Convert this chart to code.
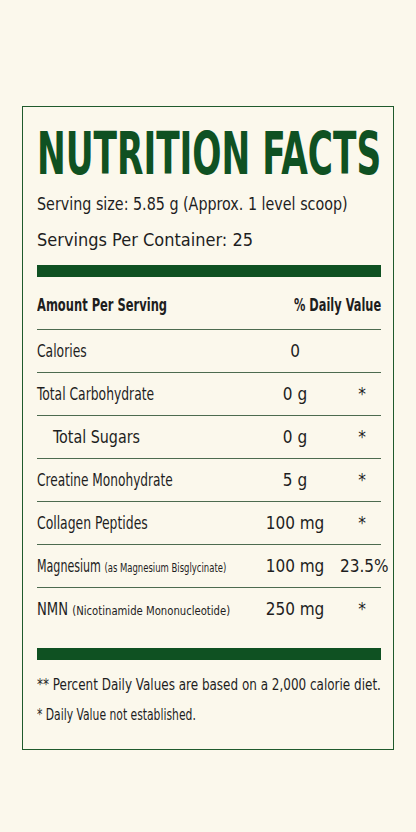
<!DOCTYPE html>
<html><head><meta charset="utf-8">
<script src="https://cdn.jsdelivr.net/npm/chart.js@4"></script>
<style>
body{margin:0;width:416px;height:832px;background:#fbf8ec;font-family:"Liberation Sans Narrow","DejaVu Sans Condensed",sans-serif;color:#1e1e1e;position:relative;overflow:hidden}
.box{position:absolute;left:22px;top:106px;width:370px;height:642px;border:1.5px solid #1f5a2c}
.abs{position:absolute;white-space:nowrap;transform-origin:left top}
.title{left:37px;top:120px;font-size:58px;font-weight:bold;color:#0f5122}
.bar{position:absolute;left:37px;width:344px;height:12px;background:#0f5122}
.rule{position:absolute;left:37px;width:344px;height:1px;background:#4d6b4f}
.t{font-size:17px}
.small{font-size:13px}
</style></head><body>
<div class="box"></div>
<div id="root"></div>
<script>
const servingLines = ["Serving size: 5.85 g (Approx. 1 level scoop)", "Servings Per Container: 25"];
const nutrients = ["Calories", "Total Carbohydrate", "Total Sugars", "Creatine Monohydrate", "Collagen Peptides", "Magnesium", "NMN"];
const notes = ["", "", "", "", "", "(as Magnesium Bisglycinate)", "(Nicotinamide Mononucleotide)"];
const amounts = ["0", "0 g", "0 g", "5 g", "100 mg", "100 mg", "250 mg"];
const dailyValues = ["", "*", "*", "*", "*", "23.5%", "*"];
const footnotes = ["** Percent Daily Values are based on a 2,000 calorie diet.", "* Daily Value not established."];

const root = document.getElementById("root");
function add(cls, html, style, fit){
  const d=document.createElement("div");d.className=cls;d.innerHTML=html;Object.assign(d.style,style||{});root.appendChild(d);
  if(fit){const w=d.scrollWidth;d.style.transform="scaleX("+(fit/w)+")";}
  return d;
}
add("abs title","NUTRITION FACTS",{},344);
add("abs t",servingLines[0],{left:"37px",top:"193px",fontSize:"18px"},311);
add("abs t",servingLines[1],{left:"37px",top:"229px",fontSize:"18px"},216);
add("bar","",{top:"265px"});
add("abs t","<b>Amount Per Serving</b>",{left:"37px",top:"295px"},130);
add("abs t","<b>% Daily Value</b>",{left:"294px",top:"295px"},87);
add("rule","",{top:"329px"});
const labelW=[50,117,87,136,111,189,193];
nutrients.forEach((n,i)=>{
  const y=341+i*43;
  const ind = i===2 ? "53px" : "37px";
  add("abs t",n+(notes[i]?' <span class="small">'+notes[i]+'</span>':''),{left:ind,top:y+"px"},labelW[i]);
  add("abs t",amounts[i],{left:"255px",width:"80px",textAlign:"center",top:y+"px"});
  add("abs t",dailyValues[i],{left:"340px",width:"44px",textAlign:"center",top:y+"px"});
  if(i<nutrients.length-1) add("rule","",{top:(y+31)+"px"});
});
add("bar","",{top:"648px"});
add("abs",footnotes[0],{left:"37px",top:"676px",fontSize:"15px"},344);
add("abs",footnotes[1],{left:"37px",top:"706px",fontSize:"15px"},159);
</script>
</body></html>
